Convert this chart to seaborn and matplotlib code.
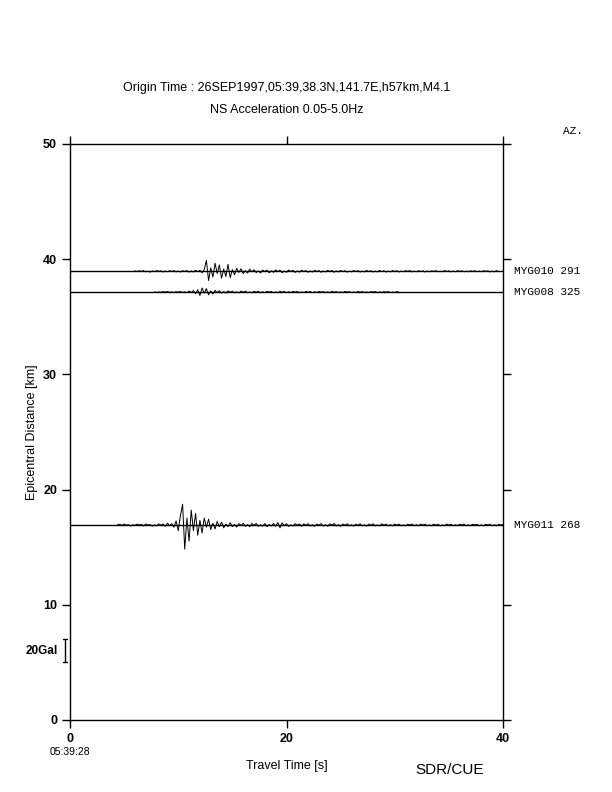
import numpy as np
import pandas as pd
import matplotlib
matplotlib.use("Agg")
import matplotlib.pyplot as plt
import seaborn as sns

# stations: name, azimuth, epicentral distance [km]
stations = ["MYG010", "MYG008", "MYG011"]
azimuths = [291, 325, 268]
distances = [38.95, 37.15, 16.93]

# record start times [s] and sample interval
t_start = [6.0, 7.8, 4.4]
dt = 0.2

# NS acceleration [Gal] (5 samples per second)
myg010 = [
    0.4, -0.2, 0.5, 0.0, 0.6,         # 6
    -0.5, 0.1, -0.7, 0.3, -0.2,       # 7
    0.6, 0.0, 0.4, -0.6, 0.2,         # 8
    -0.4, 0.5, -0.1, 0.6, -0.5,       # 9
    0.2, -0.6, 0.5, -0.1, 0.6,        # 10
    -0.7, 0.3, -0.6, 0.9, -0.3,       # 11
    0.8, -1.2, 1.5, 9.5, -8.0,        # 12
    3.0, -5.0, 7.0, -2.0, 5.5,        # 13
    -6.0, 2.0, -4.5, 6.0, -5.5,       # 14
    1.5, -3.0, 2.5, -1.0, 2.2,        # 15
    -2.0, 0.6, -1.5, 1.8, -0.4,       # 16
    1.3, -1.1, 0.3, -1.4, 1.0,        # 17
    -0.2, 1.0, -1.3, 0.4, -0.9,       # 18
    1.2, -0.3, 0.9, -1.2, 0.2,        # 19
    -0.9, 1.1, -0.2, 0.9, -1.0,       # 20
    0.3, -0.7, 0.9, -0.1, 0.6,        # 21
    -0.8, 0.2, -0.6, 0.8, -0.1,       # 22
    0.6, -0.8, 0.2, -0.5, 0.8,        # 23
    -0.1, 0.7, -0.8, 0.3, -0.5,       # 24
    0.7, -0.2, 0.5, -0.7, 0.1,        # 25
    -0.5, 0.6, -0.1, 0.5, -0.6,       # 26
    0.2, -0.5, 0.7, -0.2, 0.5,        # 27
    -0.6, 0.1, -0.5, 0.7, -0.2,       # 28
    0.5, -0.6, 0.1, -0.5, 0.6,        # 29
    -0.1, 0.4, -0.6, 0.2, -0.4,       # 30
    0.5, 0.0, 0.6, -0.5, 0.1,         # 31
    -0.4, 0.5, -0.1, 0.4, -0.6,       # 32
    0.2, -0.4, 0.4, 0.0, 0.5,         # 33
    -0.4, 0.1, -0.4, 0.6, -0.1,       # 34
    0.4, -0.5, 0.2, -0.4, 0.5,        # 35
    0.0, 0.4, -0.4, 0.1, -0.4,        # 36
    0.4, -0.1, 0.5, -0.4, 0.2,        # 37
    -0.4, 0.5, 0.0, 0.4, -0.5,        # 38
    0.1, -0.4, 0.6, -0.3,             # 39
]

myg008 = [
    0.3,                              # 7.8
    -0.4, 0.1, -0.3, 0.4, 0.0,        # 8
    0.4, -0.3, 0.1, -0.4, 0.3,        # 9
    -0.1, 0.5, -0.4, 0.2, -0.5,       # 10
    0.8, -0.3, 1.2, -1.5, 2.0,        # 11
    -3.0, 3.5, -1.0, 3.0, -2.5,       # 12
    1.0, -1.8, 1.5, -0.5, 1.2,        # 13
    -1.0, 0.4, -0.9, 1.0, -0.2,       # 14
    0.9, -0.8, 0.2, -0.7, 0.8,        # 15
    -0.2, 0.8, -0.6, 0.1, -0.6,       # 16
    0.6, -0.1, 0.6, -0.6, 0.2,        # 17
    -0.5, 0.6, 0.0, 0.5, -0.6,        # 18
    0.1, -0.5, 0.6, -0.1, 0.5,        # 19
    -0.5, 0.2, -0.5, 0.5, 0.0,        # 20
    0.4, -0.5, 0.1, -0.4, 0.5,        # 21
    -0.1, 0.4, -0.5, 0.2, -0.4,       # 22
    0.5, 0.0, 0.4, -0.4, 0.1,         # 23
    -0.4, 0.5, -0.1, 0.4, -0.4,       # 24
    0.1, -0.4, 0.5, 0.0, 0.4,         # 25
    -0.4, 0.1, -0.4, 0.5, -0.1,       # 26
    0.4, -0.4, 0.1, -0.4, 0.4,        # 27
    0.0, 0.4, -0.4, 0.1, -0.4,        # 28
    0.4, -0.1, 0.4, -0.4, 0.0,        # 29
    -0.4, 0.4, -0.3,                  # 30
]

myg011 = [
    0.3, 0.6, -0.5,                   # 4.4
    0.8, -0.1, 0.3, -0.9, 0.2,        # 5
    -0.3, 0.7, 0.0, 0.5, -0.8,        # 6
    0.9, -0.2, 0.4, -1.0, 0.1,        # 7
    -0.7, 1.0, -0.2, 0.8, -1.2,       # 8
    1.5, -0.6, 1.2, -2.0, 3.5,        # 9
    -5.0, 8.0, 18.0, -21.0, 6.0,      # 10
    -14.0, 13.0, -5.0, 10.0, -9.0,    # 11
    4.0, -7.0, 6.0, -2.0, 5.0,        # 12
    -4.0, 1.5, -3.5, 3.0, -1.5,       # 13
    2.5, -2.5, 0.8, -1.5, 2.0,        # 14
    -1.5, 0.5, -1.8, 1.2, -0.4,       # 15
    1.5, -1.2, 0.3, -1.5, 1.3,        # 16
    -0.3, 1.4, -1.2, 0.2, -1.1,       # 17
    1.2, -1.5, 0.4, -0.9, 1.3,        # 18
    -1.2, 2.2, -2.5, 1.8, -0.6,       # 19
    1.1, -1.3, 0.2, -1.0, 1.2,        # 20
    -0.3, 0.9, -1.2, 1.0, -0.2,       # 21
    1.1, -0.9, 0.3, -1.2, 0.8,        # 22
    -0.2, 1.2, -1.0, 0.3, -1.1,       # 23
    1.0, -0.2, 1.3, -0.9, 0.3,        # 24
    -1.1, 0.8, -0.2, 1.0, -0.8,       # 25
    0.2, -1.0, 0.8, -0.3, 1.1,        # 26
    -0.8, 0.2, -1.0, 0.8, -0.2,       # 27
    1.0, -0.8, 0.1, -0.8, 1.0,        # 28
    -0.2, 0.8, -0.8, 0.3, -0.8,       # 29
    0.8, -0.2, 0.8, -0.7, 0.1,        # 30
    -0.8, 0.7, -0.1, 0.8, -0.7,       # 31
    0.2, -0.7, 0.8, -0.1, 0.7,        # 32
    -0.7, 0.1, -0.7, 0.7, -0.2,       # 33
    0.7, -0.8, 0.1, -0.6, 0.8,        # 34
    -0.1, 0.6, -0.7, 0.2, -0.6,       # 35
    0.7, -0.1, 0.7, -0.7, 0.1,        # 36
    -0.6, 0.7, 0.0, 0.6, -0.7,        # 37
    0.1, -0.7, 0.6, -0.1, 0.7,        # 38
    -0.6, 0.2, -0.7, 0.6, -0.1,       # 39
    0.5,                              # 40
]
records = [myg010, myg008, myg011]

gal_to_km = 0.1   # 20 Gal scale bar = 2 km on the distance axis

# build a long table for seaborn
rows = []
for name, d, t0, acc in zip(stations, distances, t_start, records):
    t = t0 + dt * np.arange(len(acc))
    rows.append(pd.DataFrame({"station": name, "time": t,
                              "y": d + gal_to_km * np.array(acc)}))
df = pd.concat(rows, ignore_index=True)

sns.set_theme(style="ticks")
plt.rcParams["font.family"] = ["Liberation Sans", "DejaVu Sans"]
plt.rcParams["text.color"] = "black"

fig = plt.figure(figsize=(6.12, 7.92), dpi=100)
ax = fig.add_axes([70 / 612, 72 / 792, 433 / 612, 576 / 792])

# zero lines across the whole section
for d in distances:
    ax.axhline(d, color="black", lw=1.0, zorder=1)

sns.lineplot(data=df, x="time", y="y", units="station", estimator=None,
             sort=False, color="black", lw=0.7, legend=False, ax=ax, zorder=2)

ax.set_xlim(0, 40)
ax.set_ylim(0, 50)
ax.set_xticks([0, 20, 40])
ax.set_yticks([0, 10, 20, 30, 40, 50])
ax.tick_params(direction="out", length=5.8, width=1.0, pad=3.5,
               top=True, right=True, labeltop=False, labelright=False,
               labelsize=9, colors="black")
for lab in ax.get_xticklabels() + ax.get_yticklabels():
    lab.set_fontweight("bold")
for s in ax.spines.values():
    s.set_visible(True)
    s.set_color("black")
    s.set_linewidth(1.0)
ax.set_xlabel("")
ax.set_ylabel("")

# station labels on the right
for name, az, d in zip(stations, azimuths, distances):
    ax.text(41.0, d, f"{name} {az}", family="Liberation Mono", fontsize=8,
            va="center", ha="left", clip_on=False)

# amplitude scale bar
ax.plot([-0.46, -0.46], [5.0, 7.0], color="black", lw=1.0, clip_on=False)
ax.plot([-0.65, -0.27], [5.0, 5.0], color="black", lw=1.0, clip_on=False)
ax.plot([-0.65, -0.27], [7.0, 7.0], color="black", lw=1.0, clip_on=False)

W, H = 612, 792
fig.text(287 / W, 1 - 88 / H,
         "Origin Time : 26SEP1997,05:39,38.3N,141.7E,h57km,M4.1",
         ha="center", va="center", fontsize=9)
fig.text(287 / W, 1 - 110 / H, "NS Acceleration 0.05-5.0Hz",
         ha="center", va="center", fontsize=9)
fig.text(563 / W, 1 - 131 / H, "AZ.", family="Liberation Mono",
         ha="left", va="center", fontsize=8)
fig.text(32 / W, 1 - 432 / H, "Epicentral Distance [km]", rotation=90,
         ha="center", va="center", fontsize=9)
fig.text(42 / W, 1 - 651 / H, "20Gal", ha="center", va="center",
         fontsize=8.5, fontweight="bold")
fig.text(70 / W, 1 - 752 / H, "05:39:28", ha="center", va="center",
         fontsize=7.5)
fig.text(287 / W, 1 - 766 / H, "Travel Time [s]", ha="center", va="center",
         fontsize=9)
fig.text(450 / W, 1 - 770 / H, "SDR/CUE", ha="center", va="center",
         fontsize=11)

fig.savefig("out.png", dpi=100, facecolor="white")
